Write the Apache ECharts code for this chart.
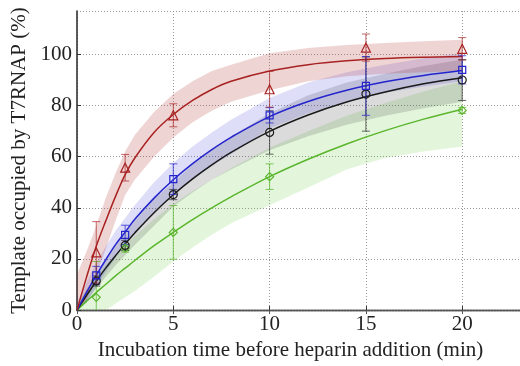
<!DOCTYPE html>
<html><head><meta charset="utf-8">
<script src="https://cdn.jsdelivr.net/npm/echarts@6/dist/echarts.min.js"></script>
<style>html,body{margin:0;padding:0;background:#fff}#c{width:520px;height:366px}</style>
</head><body><div id="c"></div>
<script>
// fitted curves sampled at these times (min)
const tCurve = [0,0.5,1,1.5,2,2.5,3,4,5,6,7,8,10,12,14,16,18,20];
const redFit  = [0,13,25,35,44.5,53,59.5,69.5,76.5,82,86.3,89.5,93.5,96,97.5,98.4,98.9,99.2];
const redLo   = [0,4,14,24,35,45,51,60,67.5,73.5,78,81.5,86,89.5,91.5,92.5,93,93.5];
const redHi   = [14,23,33,44,53.5,62,68.5,77.5,84.5,89.5,93.5,96,100.5,102.5,103.7,104.5,105.2,105.8];
const blueFit = [0,7,13.6,19.8,25.6,30.5,35.5,43.8,51,57.3,62.8,67.6,75.7,81.6,86,89.3,91.8,93.7];
const blueLo  = [0,3,9,15,20.5,25.5,30,38,45,51,56.5,61,71,77,81.5,85,87.5,89.5];
const blueHi  = [3,11,18.5,25,31,36,41,50,57.5,64,69.5,74.5,83,89,93,96,98.5,100.5];
const blackFit= [0,5.8,11.3,16.5,21.3,25.9,30.2,38.1,45.1,51.3,56.8,61.7,69.9,76.3,81.4,85.3,88.5,90.9];
const blackLo = [0,3.5,8.5,13,17.5,21.5,25.5,33,40.5,46,51,55,62.5,68,72.5,76,79,81.5];
const blackHi = [0,8,14,20,25.5,30.5,35,43.5,50,57,62.5,68,77,84,89,92.5,95.5,98];
const greenFit= [0,3.5,6.9,10.1,13.4,16.4,19.4,25.2,30.4,35.4,40,44.3,52.2,59,65,70.2,74.7,78.6];
const greenLo = [0,0,0,0,2.5,5,7.5,13,19,24.5,29.5,34,41,48,55,59.5,62,64];
const greenHi = [2,8,13,17.5,21.5,25.5,29,35.5,41.5,46.5,51,55.5,63.5,70,76,81,85.5,89.5];

// measured points
const tRed   = [1,2.5,5,10,15,20];
const redVal = [22.6,55.7,76.2,86.4,102.7,102.2];
const redErr = [12,5.2,4.5,7,5.3,4.4];
const tBlue   = [1,2.5,5,10,15,20];
const blueVal = [13.6,29.4,51.2,76.2,87.7,94];
const blueErr = [3.5,3.8,6,3,11.5,5.5];
const tBlack   = [1,2.5,5,10,15,20];
const blackVal = [11.4,25.3,45.2,69.5,84.5,90];
const blackErr = [2,2,2,8.5,14.5,8];
const tGreen   = [1,2.5,5,10,20];
const greenVal = [5,24.2,30.4,52.2,78.1];
const greenErr = [14,1.5,10.5,5,1.2];

const xTicks = [0,5,10,15,20];
const yTicks = [0,20,40,60,80,100];

const FONT = 'Liberation Serif';
const chart = echarts.init(document.getElementById('c'), null, {renderer:'canvas'});

function bandSeries(lo, hi, color){
  const data = tCurve.map((t,i)=>[t, lo[i], hi[i]]);
  return {type:'custom', clip:true, silent:true, z:1, data, encode:{x:0, y:[1,2]},
    renderItem(params, api){
      if(params.dataIndex !== 0) return;
      const top = data.map(d=>api.coord([d[0], d[2]]));
      const bot = data.map(d=>api.coord([d[0], d[1]])).reverse();
      return {type:'polygon', shape:{points: top.concat(bot)}, style:{fill:color}};
    }};
}
function lineSeries(vals, color){
  return {type:'line', z:2, smooth:0.35, showSymbol:false, silent:true,
    data: tCurve.map((t,i)=>[t, vals[i]]),
    lineStyle:{color, width:1.5}};
}
function errSeries(ts, vals, errs, color){
  const data = ts.map((t,i)=>[t, vals[i]-errs[i], vals[i]+errs[i]]);
  return {type:'custom', clip:true, z:3, silent:true, data, encode:{x:0, y:[1,2]},
    renderItem(params, api){
      const x = api.value(0);
      const p1 = api.coord([x, api.value(1)]), p2 = api.coord([x, api.value(2)]);
      const w = 4, st = {stroke:color, lineWidth:1};
      return {type:'group', children:[
        {type:'line', shape:{x1:p1[0], y1:p1[1], x2:p2[0], y2:p2[1]}, style:st},
        {type:'line', shape:{x1:p1[0]-w, y1:p1[1], x2:p1[0]+w, y2:p1[1]}, style:st},
        {type:'line', shape:{x1:p2[0]-w, y1:p2[1], x2:p2[0]+w, y2:p2[1]}, style:st}
      ]};
    }};
}
function markSeries(ts, vals, symbol, size, color){
  return {type:'scatter', z:4, silent:true, symbol, symbolSize:size,
    data: ts.map((t,i)=>[t, vals[i]]),
    itemStyle:{color:'rgba(0,0,0,0)', borderColor:color, borderWidth:1.2, opacity:1}};
}

const RED='#a82222', BLUE='#2424cc', BLACK='#1a1a1a', GREEN='#5bb52c';

chart.setOption({
  animation:false,
  backgroundColor:'#fff',
  grid:{left:77, top:11, width:456.5, height:303.7, show:false},
  xAxis:[{
    type:'value', min:0, max:23, interval:5, position:'bottom',
    axisLine:{show:true, onZero:false, lineStyle:{color:'#333', width:1.3}},
    axisTick:{show:true, inside:true, length:4, lineStyle:{color:'#333'}},
    axisLabel:{fontFamily:FONT, fontSize:21, color:'#222', margin:4, showMaxLabel:false,
      formatter:v=> xTicks.includes(v) ? String(v) : ''},
    splitLine:{show:true, lineStyle:{color:'#9a9a9a', type:[1,2], width:1}},
    name:'Incubation time before heparin addition (min)', nameLocation:'middle', nameGap:26,
    nameTextStyle:{fontFamily:FONT, fontSize:21, color:'#222', padding:[0,16,0,0]}
  },{
    type:'value', min:0, max:23, interval:5, position:'top',
    axisLine:{show:true, lineStyle:{color:'#555', width:1.3, type:[2,1]}},
    axisTick:{show:true, inside:true, length:4, lineStyle:{color:'#555'}},
    axisLabel:{show:false}, splitLine:{show:false}
  }],
  yAxis:{
    type:'value', min:0, max:117, interval:20,
    axisLine:{show:true, lineStyle:{color:'#333', width:1.6}},
    axisTick:{show:true, inside:true, length:4, lineStyle:{color:'#333'}},
    axisLabel:{fontFamily:FONT, fontSize:21, color:'#222', margin:5, showMaxLabel:false,
      formatter:v=> yTicks.includes(v) ? String(v) : ''},
    splitLine:{show:true, lineStyle:{color:'#9a9a9a', type:[1,2], width:1}},
    name:'Template occupied by T7RNAP (%)', nameLocation:'middle', nameGap:42, nameRotate:90,
    nameTextStyle:{fontFamily:FONT, fontSize:21, color:'#222'}
  },
  series:[
    bandSeries(greenLo, greenHi, 'rgba(90,200,50,0.17)'),
    bandSeries(blackLo, blackHi, 'rgba(0,0,0,0.14)'),
    bandSeries(blueLo, blueHi, 'rgba(50,50,220,0.16)'),
    bandSeries(redLo, redHi, 'rgba(175,40,40,0.2)'),
    lineSeries(greenFit, GREEN),
    lineSeries(blackFit, BLACK),
    lineSeries(blueFit, BLUE),
    lineSeries(redFit, RED),
    errSeries(tGreen, greenVal, greenErr, 'rgba(91,181,44,0.75)'),
    errSeries(tBlack, blackVal, blackErr, 'rgba(40,40,40,0.7)'),
    errSeries(tBlue, blueVal, blueErr, 'rgba(36,36,204,0.75)'),
    errSeries(tRed, redVal, redErr, 'rgba(168,34,34,0.7)'),
    markSeries(tGreen, greenVal, 'diamond', 8, GREEN),
    markSeries(tBlack, blackVal, 'circle', 8, BLACK),
    markSeries(tBlue, blueVal, 'rect', 7, BLUE),
    markSeries(tRed, redVal, 'triangle', 9, RED)
  ]
});
</script></body></html>
